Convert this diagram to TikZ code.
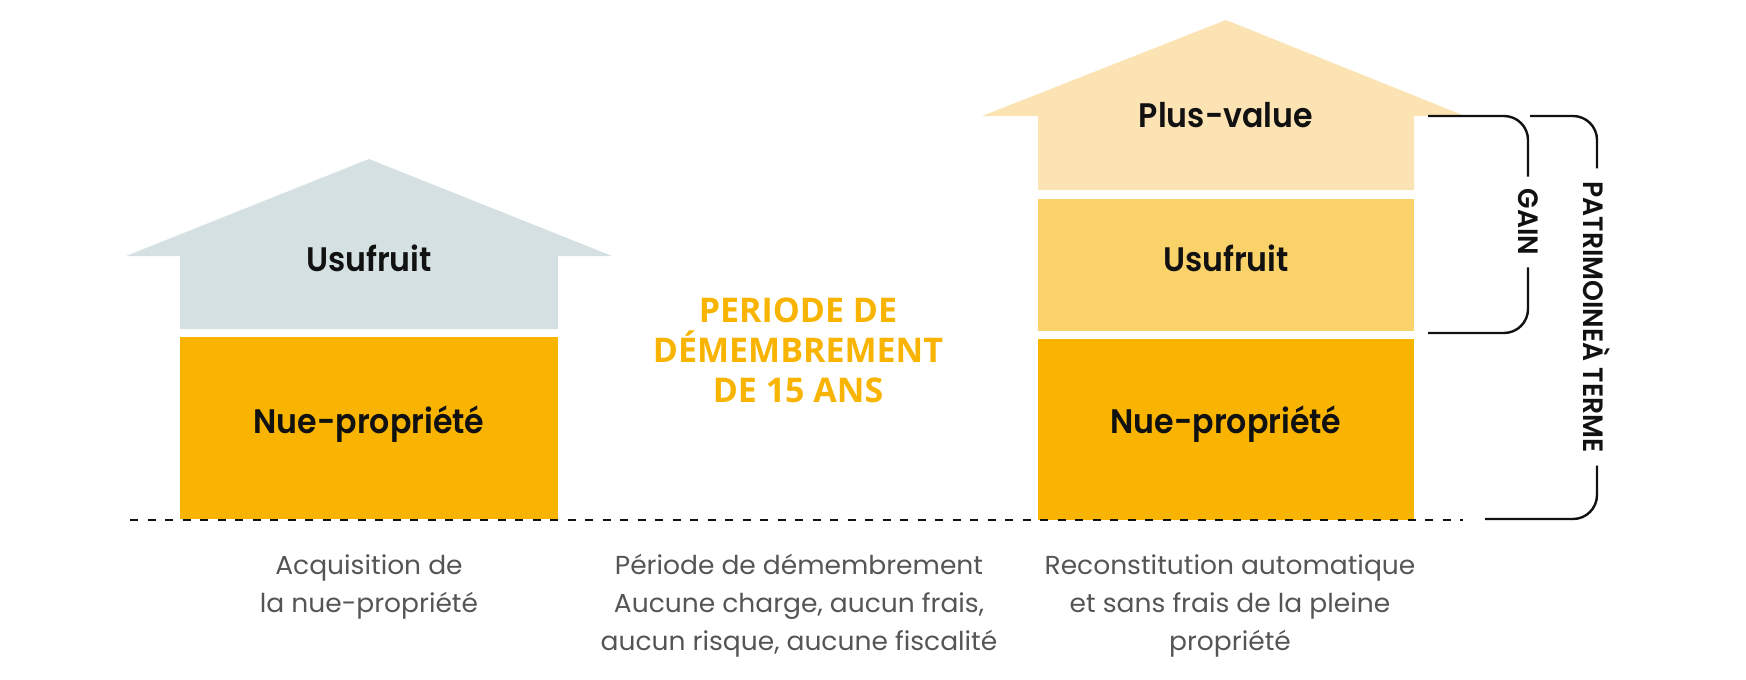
\documentclass[tikz,border=0pt]{standalone}
\usepackage{fontspec}
\setmainfont{Poppins}
\newfontfamily\lblfont{Poppins SemiBold}[FakeStretch=0.93]
\newfontfamily\sidefont{Poppins SemiBold}[FakeStretch=0.95]
\newfontfamily\botfont{Poppins}[FakeStretch=1.02]
\newfontfamily\ctrfont{Open Sans}
\definecolor{usuL}{HTML}{D4E0E1}
\definecolor{nue}{HTML}{F8B400}
\definecolor{usuR}{HTML}{FAD26A}
\definecolor{plusv}{HTML}{FCE3B4}
\definecolor{botgray}{HTML}{555555}
\definecolor{ink}{HTML}{111111}
\begin{document}
\begin{tikzpicture}[x=1pt,y=-1pt,
  lbl/.style={font={\lblfont\fontsize{34}{40}\selectfont},text=ink,inner sep=0pt},
  bot/.style={font={\botfont\fontsize{26}{38}\selectfont},text=botgray,align=center,inner sep=0pt},
  ctr/.style={font={\ctrfont\bfseries\fontsize{34}{40}\selectfont},text=nue,align=center,inner sep=0pt},
  brk/.style={draw=ink,line width=2.4pt,rounded corners=24pt},
  side/.style={font={\sidefont\fontsize{28}{32}\selectfont},text=ink,rotate=-90,inner sep=0pt}]
\useasboundingbox (0,0) rectangle (1746,680);
% left house
\fill[usuL] (126,256) -- (369,159) -- (612,256) -- (558,256) -- (558,329) -- (180,329) -- (180,256) -- cycle;
\fill[nue] (180,337) rectangle (558,519);
% right house
\fill[plusv] (982,116) -- (1226,20) -- (1465,116) -- (1414,116) -- (1414,190) -- (1038,190) -- (1038,116) -- cycle;
\fill[usuR] (1038,199) rectangle (1414,331);
\fill[nue] (1038,339) rectangle (1414,520);
% baseline
\coordinate (d1) at (130,520);
\coordinate (d2) at (1463,520);
\draw[ink,line width=2.4pt,dash pattern=on 8pt off 9.5pt] (d1) -- (d2);
% labels
\node[lbl] (uL) at (369,258) {Usufruit};
\node[lbl] (nL) at (369,424) {Nue-propriété};
\node[lbl] (pR) at (1226,115) {Plus-value};
\node[lbl] (uR) at (1226,258) {Usufruit};
\node[lbl] (nR) at (1226,424) {Nue-propriété};
\node[ctr] (mid) at (798,350) {PERIODE DE\\DÉMEMBREMENT\\DE 15 ANS};
\node[bot] (b1) at (369,587) {Acquisition de\\la nue-propriété};
\node[bot] (b2) at (799,606) {Période de démembrement\\Aucune charge, aucun frais,\\aucun risque, aucune fiscalité};
\node[bot] (b3) at (1230,606) {Reconstitution automatique\\et sans frais de la pleine\\propriété};
% brackets
\node[side] (gain) at (1528,222) {GAIN};
\node[side] (patr) at (1597,317) {PATRIMOINEÀ TERME};
\coordinate (g1) at (1428,116);
\coordinate (g2) at (1428,333);
\coordinate (p1) at (1530,116);
\coordinate (p2) at (1485,519);
\draw[brk] (g1) -- (1528,116) -- ([yshift=12pt]gain.west);
\draw[brk] (g2) -- (1528,333) -- ([yshift=-12pt]gain.east);
\draw[brk] (p1) -- (1597,116) -- ([yshift=13pt]patr.west);
\draw[brk] (p2) -- (1597,519) -- ([yshift=-13pt]patr.east);
\end{tikzpicture}
\end{document}
